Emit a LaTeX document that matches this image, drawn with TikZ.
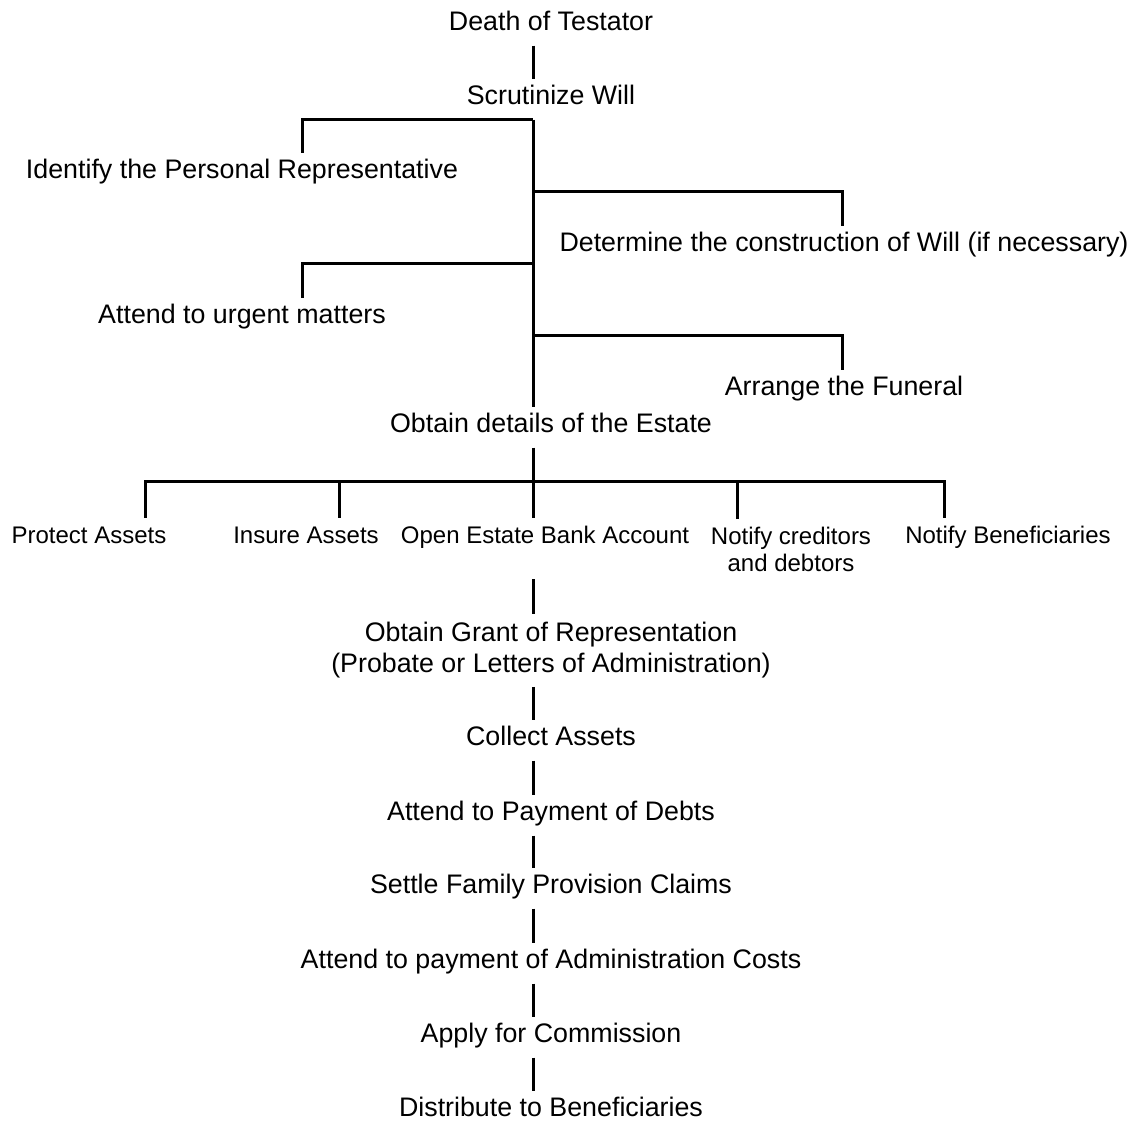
\documentclass[tikz,border=0pt]{standalone}
\usepackage{fontspec}
\setmainfont{Liberation Sans}
\usepackage{tikz}

\begin{document}
\begin{tikzpicture}[x=1pt, y=-1pt, line width=3pt,
    stage/.style={font=\fontsize{26.8}{31}\selectfont, inner xsep=0pt, inner ysep=7pt},
    single/.style={stage, text height=17pt, text depth=7pt, anchor=base},
    double/.style={stage, align=center, anchor=north},
    small/.style={font=\fontsize{24}{27}\selectfont}]
  \useasboundingbox (0,0) rectangle (1127,1120);

  \coordinate (sp) at (533,0);
  \coordinate (lx) at (302,0);
  \coordinate (rx) at (842,0);

  % upper part
  \node[single] (death) at (551,30) {Death of Testator};
  \node[single] (scrut) at (551,104) {Scrutinize Will};
  \node[single] (ident) at (242,178) {Identify the Personal Representative};
  \node[single] (constr) at (844,251) {Determine the construction of Will (if necessary)};
  \node[single] (urgent) at (242,323) {Attend to urgent matters};
  \node[single] (funeral) at (844,395) {Arrange the Funeral};
  \node[single] (details) at (551,432) {Obtain details of the Estate};

  \coordinate (j2) at (533,191);
  \coordinate (j3) at (533,263);
  \coordinate (j4) at (533,335);

  \draw[-] (death.south -| sp) -- (scrut.north -| sp);
  \draw[-] (ident.north -| lx) |- (scrut.south -| sp);
  \draw[-] (scrut.south -| sp) -- (details.north -| sp);
  \draw[-] (constr.north -| rx) |- (j2);
  \draw[-] (urgent.north -| lx) |- (j3);
  \draw[-] (funeral.north -| rx) |- (j4);

  % row of tasks
  \node[single, small] (protect) at (89,543) {Protect Assets};
  \node[single, small] (insure) at (306,543) {Insure Assets};
  \node[single, small] (account) at (545,543) {Open Estate Bank Account};
  \node[double, small] (notifyc) at (791,519) {Notify creditors\\and debtors};
  \node[single, small] (notifyb) at (1008,543) {Notify Beneficiaries};

  \coordinate (dp) at (145,481);
  \coordinate (di) at (339,481);
  \coordinate (dc) at (737,481);
  \coordinate (dn) at (944,481);

  \draw[-] (protect.north -| dp) -- (dp) -- (dn) -- (notifyb.north -| dn);
  \draw[-] (insure.north -| di) -- (di);
  \draw[-] (notifyc.north -| dc) -- (dc);
  \draw[-] (details.south -| sp) -- (account.north -| sp);

  % lower part
  \node[double] (grant) at (551,614) {Obtain Grant of Representation\\(Probate or Letters of Administration)};
  \node[single] (collect) at (551,745) {Collect Assets};
  \node[single] (debts) at (551,820) {Attend to Payment of Debts};
  \node[single] (claims) at (551,893) {Settle Family Provision Claims};
  \node[single] (costs) at (551,968) {Attend to payment of Administration Costs};
  \node[single] (commis) at (551,1042) {Apply for Commission};
  \node[single] (distr) at (551,1116) {Distribute to Beneficiaries};

  \coordinate (rowend) at (533,579);
  \draw[-] (rowend) -- (grant.north -| sp);
  \foreach \a/\b in {grant/collect, collect/debts, debts/claims, claims/costs, costs/commis, commis/distr}
    \draw[-] (\a.south -| sp) -- (\b.north -| sp);
\end{tikzpicture}
\end{document}
